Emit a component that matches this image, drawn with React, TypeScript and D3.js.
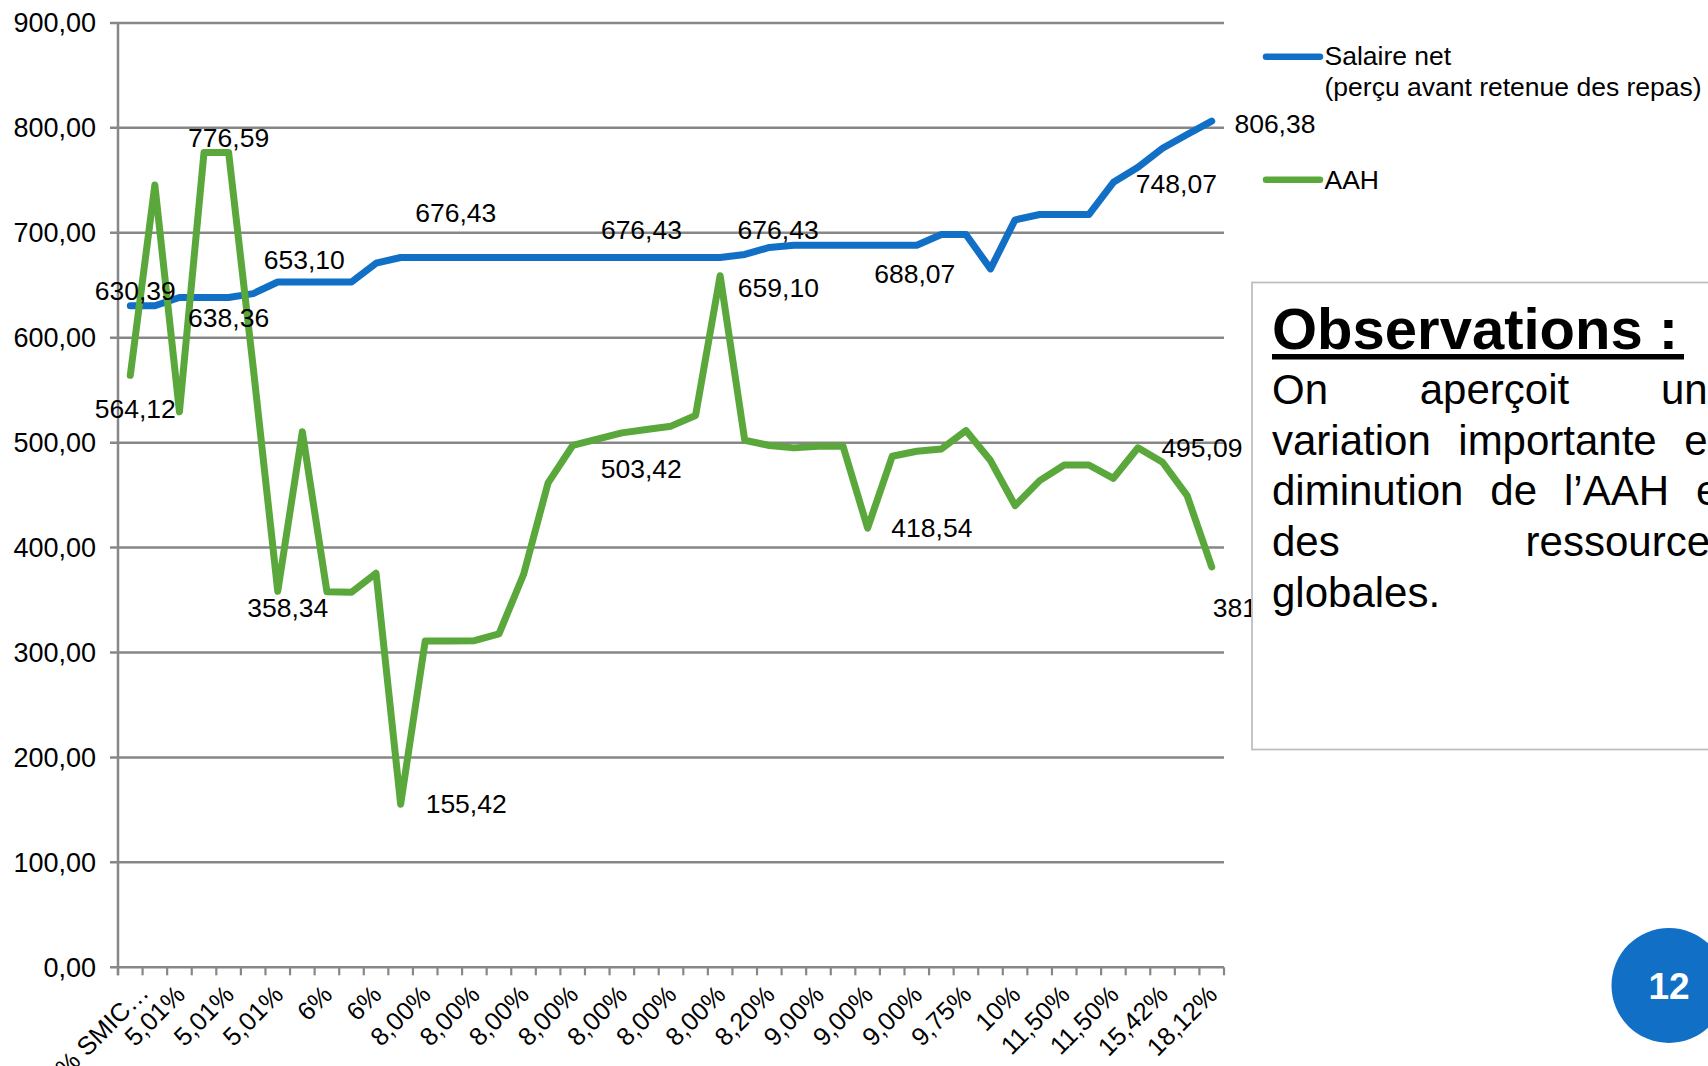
import React, { useEffect, useMemo } from "react";
import * as d3 from "d3";

// ---------- data ----------
const categoryLabels = [
  "% SMIC…", "5,01%", "5,01%", "5,01%", "6%", "6%",
  "8,00%", "8,00%", "8,00%", "8,00%", "8,00%", "8,00%", "8,00%",
  "8,20%", "9,00%", "9,00%", "9,00%", "9,75%", "10%",
  "11,50%", "11,50%", "15,42%", "18,12%",
];
const labelStep = 2;

const salaireNet = [
  630.39, 630.39, 638.36, 638.36, 638.36, 642.0, 653.1, 653.1, 653.1, 653.1,
  671.0, 676.43, 676.43, 676.43, 676.43, 676.43, 676.43, 676.43, 676.43, 676.43,
  676.43, 676.43, 676.43, 676.43, 676.43, 679.3, 686.0, 688.07, 688.07, 688.07,
  688.07, 688.07, 688.07, 698.3, 698.3, 665.6, 712.3, 717.4, 717.4, 717.4,
  748.07, 762.5, 780.6, 793.6, 806.38,
];

const aah = [
  564.12, 745.5, 529.4, 776.59, 776.59, 572.0, 358.34, 510.3, 358.0, 357.5,
  375.5, 155.42, 310.9, 311.0, 311.2, 317.7, 374.3, 461.7, 497.3, 503.42,
  509.3, 512.5, 515.7, 525.9, 659.1, 502.3, 497.3, 495.0, 496.6, 496.6,
  418.54, 487.0, 491.8, 494.0, 511.5, 482.9, 440.0, 463.8, 478.7, 478.7,
  466.0, 495.09, 481.3, 449.5, 381.5,
];

const yTicks = [0, 100, 200, 300, 400, 500, 600, 700, 800, 900];

const legendSalaire = ["Salaire net", "(perçu avant retenue des repas)"];
const legendAah = "AAH";

// which points carry a value label
const salaireLabelIdx = [0, 4, 7, 13, 21, 24, 32, 40, 44];
const aahLabelIdx = [0, 4, 6, 11, 19, 24, 30, 41, 44];

const observationTitle = "Observations :";
const observationLines = [
  ["On", "aperçoit", "une"],
  ["variation", "importante", "en"],
  ["diminution", "de", "l’AAH", "et"],
  ["des", "ressources"],
  ["globales."],
];
const pageNumber = "12";

// ---------- layout / style ----------
const W = 1708;
const H = 1066;
const FONT = '"Liberation Sans", Arial, Helvetica, sans-serif';
const BLUE = "#1170C6";
const GREEN = "#5AA83B";
const GRID = "#878787";

// label placement offsets (style) for each labelled point, same order as the index arrays
const salaireLabelPos = [
  { a: "middle", dx: 5, dy: -6 },
  { a: "middle", dx: 0, dy: 29.5 },
  { a: "middle", dx: 2, dy: -12.7 },
  { a: "middle", dx: 6, dy: -35 },
  { a: "middle", dx: -5, dy: -18.5 },
  { a: "middle", dx: 58, dy: -18.5 },
  { a: "middle", dx: -2, dy: 38 },
  { a: "middle", dx: 63, dy: 11 },
  { a: "start", dx: 22.7, dy: 11.5 },
];
const aahLabelPos = [
  { a: "middle", dx: 5, dy: 43 },
  { a: "middle", dx: 0, dy: -5.7 },
  { a: "middle", dx: 10, dy: 25.4 },
  { a: "start", dx: 25, dy: 9 },
  { a: "middle", dx: 44, dy: 39 },
  { a: "start", dx: 17.7, dy: 21.6 },
  { a: "start", dx: 23.7, dy: 9.2 },
  { a: "start", dx: 23.4, dy: 9 },
  { a: "start", dx: 1, dy: 50 },
];

const fmt = (v: number) => d3.format(".2f")(v).replace(".", ",");

export default function App() {
  useEffect(() => {
    document.body.style.margin = "0";
    document.body.style.overflow = "hidden";
  }, []);

  const n = salaireNet.length;
  const x = d3.scaleLinear().domain([0, n]).range([118, 1224]);
  const y = d3.scaleLinear().domain([0, 900]).range([967.3, 22.9]);
  const cx = (i: number) => x(i + 0.5);

  const lineGen = d3
    .line<number>()
    .x((_, i) => cx(i))
    .y((d) => y(d));

  const axisY = y(0);

  // justified text layout
  const textLeft = 1272;
  const textRight = 1731;
  const bodySize = 42;
  const laidOut = useMemo(() => {
    const canvas = document.createElement("canvas");
    const ctx = canvas.getContext("2d")!;
    ctx.font = `${bodySize}px "Liberation Sans", Arial, sans-serif`;
    return observationLines.map((words, li) => {
      const widths = words.map((w) => ctx.measureText(w).width);
      const total = widths.reduce((a, b) => a + b, 0);
      const isLast = li === observationLines.length - 1;
      const gap = isLast || words.length < 2
        ? ctx.measureText(" ").width
        : (textRight - textLeft - total) / (words.length - 1);
      let pos = textLeft;
      return words.map((w, wi) => {
        const px = pos;
        pos += widths[wi] + gap;
        return { w, px };
      });
    });
  }, []);

  const xTickIdx = d3.range(0, n + 1);

  return (
    <svg
      width={W}
      height={H}
      viewBox={`0 0 ${W} ${H}`}
      style={{ position: "absolute", left: 0, top: 0, display: "block", background: "#fff" }}
      fontFamily={FONT}
    >
      <rect x={0} y={0} width={W} height={H} fill="#fff" />

      {/* gridlines */}
      {yTicks.map((t) => (
        <line
          key={"g" + t}
          x1={110}
          x2={1224}
          y1={y(t)}
          y2={y(t)}
          stroke={GRID}
          strokeWidth={2.5}
        />
      ))}
      {/* y axis */}
      <line x1={118} x2={118} y1={y(900)} y2={axisY + 8} stroke={GRID} strokeWidth={2.5} />
      {/* x axis ticks */}
      {xTickIdx.map((k) => (
        <line key={"xt" + k} x1={x(k)} x2={x(k)} y1={axisY} y2={axisY + 8} stroke={GRID} strokeWidth={2.2} />
      ))}
      {/* y tick labels */}
      {yTicks.map((t) => (
        <text
          key={"yl" + t}
          x={96}
          y={y(t) + 9.5}
          textAnchor="end"
          fontSize={27}
          fill="#000"
        >
          {fmt(t)}
        </text>
      ))}
      {/* x tick labels */}
      {categoryLabels.map((lab, j) => {
        const i = j * labelStep;
        const px = cx(i) + 7 + (j === 0 ? 13 : 0);
        const py = axisY + 29 + (j === 0 ? -2 : 0);
        return (
          <text
            key={"xl" + j}
            x={px}
            y={py}
            textAnchor="end"
            fontSize={25.5}
            fill="#000"
            transform={`rotate(-45 ${px} ${py})`}
          >
            {lab}
          </text>
        );
      })}

      {/* series */}
      <path
        d={lineGen(salaireNet) || ""}
        fill="none"
        stroke={BLUE}
        strokeWidth={7}
        strokeLinejoin="round"
        strokeLinecap="round"
      />
      <path
        d={lineGen(aah) || ""}
        fill="none"
        stroke={GREEN}
        strokeWidth={7}
        strokeLinejoin="round"
        strokeLinecap="round"
      />

      {/* data labels */}
      {salaireLabelIdx.map((i, k) => (
        <text
          key={"sl" + k}
          x={cx(i) + salaireLabelPos[k].dx}
          y={y(salaireNet[i]) + salaireLabelPos[k].dy}
          textAnchor={salaireLabelPos[k].a as any}
          fontSize={26.5}
          fill="#000"
        >
          {fmt(salaireNet[i])}
        </text>
      ))}
      {aahLabelIdx.map((i, k) => (
        <text
          key={"al" + k}
          x={cx(i) + aahLabelPos[k].dx}
          y={y(aah[i]) + aahLabelPos[k].dy}
          textAnchor={aahLabelPos[k].a as any}
          fontSize={26.5}
          fill="#000"
        >
          {fmt(aah[i])}
        </text>
      ))}

      {/* legend */}
      <line x1={1266} x2={1320} y1={56.7} y2={56.7} stroke={BLUE} strokeWidth={6.5} strokeLinecap="round" />
      <text x={1324.5} y={65.4} fontSize={26.5} fill="#000">{legendSalaire[0]}</text>
      <text x={1324.5} y={96} fontSize={26.5} fill="#000">{legendSalaire[1]}</text>
      <line x1={1266} x2={1320} y1={179.7} y2={179.7} stroke={GREEN} strokeWidth={6.5} strokeLinecap="round" />
      <text x={1324.5} y={188.5} fontSize={26.5} fill="#000">{legendAah}</text>

      {/* observations box */}
      <rect x={1252} y={282.5} width={600} height={467} fill="#fff" stroke="#BFBFBF" strokeWidth={1.8} />
      <text x={1272} y={348.6} fontSize={58} fontWeight="bold" fill="#000">{observationTitle}</text>
      <rect x={1272} y={354} width={412} height={5.5} fill="#000" />
      {laidOut.map((words, li) =>
        words.map((w, wi) => (
          <text key={"ob" + li + "_" + wi} x={w.px} y={404.1 + li * 50.65} fontSize={bodySize} fill="#000">
            {w.w}
          </text>
        ))
      )}

      {/* page number */}
      <circle cx={1669} cy={985.5} r={57.5} fill={BLUE} />
      <text x={1669} y={985.5 + 13} textAnchor="middle" fontSize={37} fontWeight="bold" fill="#fff">
        {pageNumber}
      </text>
    </svg>
  );
}
